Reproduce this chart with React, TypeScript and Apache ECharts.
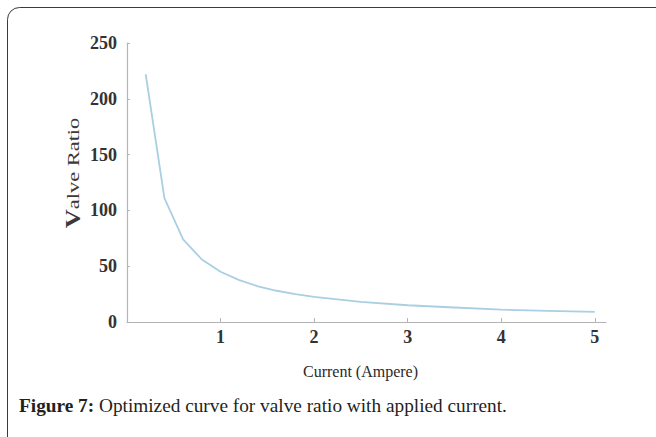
import React, { useEffect, useRef } from "react";
import * as echarts from "echarts";

const currentA = [0.2, 0.4, 0.6, 0.8, 1.0, 1.2, 1.4, 1.6, 1.8, 2.0, 2.5, 3.0, 3.5, 4.0, 4.5, 5.0];
const valveRatio = [222, 111, 74, 56, 45, 37.5, 32, 28, 25, 22.5, 18, 15, 13, 11, 10, 9];
const xTicks = [1, 2, 3, 4, 5];
const yTicks = [0, 50, 100, 150, 200, 250];

const SERIF = "Liberation Serif";

export default function App() {
  const ref = useRef<HTMLDivElement>(null);
  useEffect(() => {
    if (!ref.current) return;
    const chart = echarts.init(ref.current, null, { renderer: "svg" });
    chart.setOption({
      animation: false,
      backgroundColor: "#ffffff",
      textStyle: { fontFamily: SERIF },
      grid: { left: 127, top: 43, right: 50, bottom: 115, containLabel: false },
      xAxis: {
        type: "value",
        min: 0,
        max: 5.12,
        axisLine: { show: true, lineStyle: { color: "#b4b4b4", width: 1.2 } },
        axisTick: { show: true, inside: true, length: 4, customValues: xTicks, lineStyle: { color: "#b4b4b4" } },
        axisLabel: {
          customValues: xTicks,
          margin: 6,
          fontFamily: SERIF,
          fontSize: 18,
          fontWeight: "bold",
          color: "#333333",
        },
        splitLine: { show: false },
        name: "Current (Ampere)",
        nameLocation: "middle",
        nameGap: 41,
        nameTextStyle: { fontFamily: SERIF, fontSize: 16, color: "#2a2a2a", padding: [0, 12, 0, 0] },
      },
      yAxis: {
        type: "value",
        min: 0,
        max: 250,
        interval: 50,
        axisLine: { show: true, lineStyle: { color: "#b4b4b4", width: 1.2 } },
        axisTick: { show: true, inside: true, length: 3, customValues: yTicks, lineStyle: { color: "#b4b4b4" } },
        axisLabel: {
          margin: 10,
          fontFamily: SERIF,
          fontSize: 18,
          fontWeight: "bold",
          color: "#333333",
        },
        splitLine: { show: false },
      },
      series: [
        {
          type: "line",
          data: currentA.map((x, i) => [x, valveRatio[i]]),
          showSymbol: false,
          smooth: false,
          lineStyle: { color: "#a9cfe2", width: 1.8 },
        },
      ],
      graphic: [
        {
          type: "rect",
          shape: { x: 7.5, y: 7.5, width: 720, height: 520, r: 12 },
          style: { fill: "none", stroke: "#3a3a3a", lineWidth: 1 },
          silent: true,
          z: -1,
        },
        {
          type: "text",
          x: 73,
          y: 173,
          rotation: Math.PI / 2,
          scaleX: 1.32,
          style: {
            text: "{v|V}{n|alve Ratio}",
            align: "center",
            verticalAlign: "middle",
            fontFamily: SERIF,
            fontSize: 17,
            fill: "#3a3a3a",
            rich: {
              v: { fontFamily: SERIF, fontSize: 20, fontWeight: "bold", fill: "#3a3a3a" },
              n: { fontFamily: SERIF, fontSize: 17, fill: "#3a3a3a" },
            },
          },
        },
        {
          type: "text",
          x: 19,
          y: 405,
          style: {
            text: "{b|Figure 7:}{n| Optimized curve for valve ratio with applied current.}",
            verticalAlign: "middle",
            fontFamily: SERIF,
            fontSize: 19.3,
            fill: "#231f20",
            rich: {
              b: { fontFamily: SERIF, fontSize: 19.3, fontWeight: "bold", fill: "#231f20" },
              n: { fontFamily: SERIF, fontSize: 19.3, fill: "#231f20" },
            },
          },
        },
      ],
    });
    return () => chart.dispose();
  }, []);
  return (
    <div
      ref={ref}
      style={{ position: "fixed", left: 0, top: 0, width: 656, height: 437, background: "#fff" }}
    />
  );
}
